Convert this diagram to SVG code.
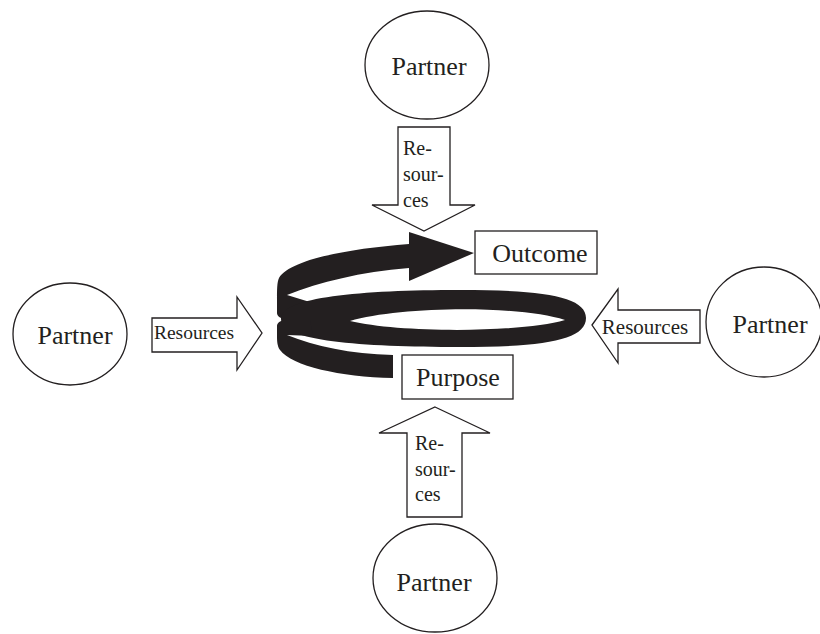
<svg xmlns="http://www.w3.org/2000/svg" width="820" height="634" viewBox="0 0 820 634">
<style>
.o{fill:#fff;stroke:#231f20;stroke-width:1.3}
.t{font-family:"Liberation Serif","Times New Roman",serif;fill:#231f20}
.big{font-size:26px}
.sm{font-size:20px}
.blk{fill:#231f20;stroke:none}
</style>
<rect width="820" height="634" fill="#fff"/>
<g id="partner-top">
<ellipse class="o" cx="427" cy="65" rx="62" ry="54"/>
<text class="t big" x="429" y="75" text-anchor="middle">Partner</text>
</g>
<g id="partner-left">
<ellipse class="o" cx="70" cy="334" rx="57" ry="51"/>
<text class="t big" x="75" y="344" text-anchor="middle">Partner</text>
</g>
<g id="partner-right">
<ellipse class="o" cx="764" cy="322" rx="58" ry="55"/>
<text class="t big" x="770" y="333" text-anchor="middle">Partner</text>
</g>
<g id="partner-bottom">
<ellipse class="o" cx="435" cy="578" rx="62" ry="54"/>
<text class="t big" x="434" y="591" text-anchor="middle">Partner</text>
</g>
<g id="connectors">
<g id="res-top">
<polygon class="o" points="398,127 450,127 450,205 475,205 424,231 372,205 398,205"/>
<text class="t sm" x="403" y="155">Re-</text>
<text class="t sm" x="403" y="181">sour-</text>
<text class="t sm" x="403" y="207">ces</text>
</g>
<g id="res-left">
<polygon class="o" points="152,318 237,318 237,297 262,333 237,370 237,352 152,352"/>
<text class="t" font-size="19.5" x="194" y="339" text-anchor="middle">Resources</text>
</g>
<g id="res-right">
<polygon class="o" points="592,325 618,289 618,310 700,310 700,343 618,343 618,363"/>
<text class="t" font-size="21" x="645" y="334" text-anchor="middle">Resources</text>
</g>
<g id="res-bottom">
<polygon class="o" points="435,407 490,433 462,433 462,517 407,517 407,433 379,433"/>
<text class="t sm" x="415" y="450">Re-</text>
<text class="t sm" x="415" y="476">sour-</text>
<text class="t sm" x="415" y="501">ces</text>
</g>
</g>
<g id="spiral">
<path class="blk" d="M409 244 C345 249 290 260 279 278 C277 282 277 290 277 300 L277 313 C277 316 280 318 284 319 L310 319 L313 303 L287 295 C320 282 360 272 409 268 Z"/>
<polygon class="blk" points="409,232 474,253 409,281"/>
<path class="blk" fill-rule="evenodd" d="M281 319 C281 297 360 290 460 290 C545 290 586 297 586 318 C586 340 545 347 460 347 C360 347 281 341 281 319 Z M350 321 C400 306 520 305 565 320 C520 333 400 333 350 321 Z"/>
<path class="blk" d="M393 355 L393 378 C340 377 292 366 280 350 C277 346 277 340 277 335 L277 326 C277 323 280 321 284 320 L310 320 L313 336 L287 335 C315 346 350 354 393 355 Z"/>
</g>
<g id="outcome">
<rect class="o" x="475" y="231" width="122" height="43"/>
<text class="t big" x="540" y="262" text-anchor="middle">Outcome</text>
</g>
<g id="purpose">
<rect class="o" x="402" y="355" width="111" height="44"/>
<text class="t big" x="458" y="386" text-anchor="middle">Purpose</text>
</g>
</svg>
